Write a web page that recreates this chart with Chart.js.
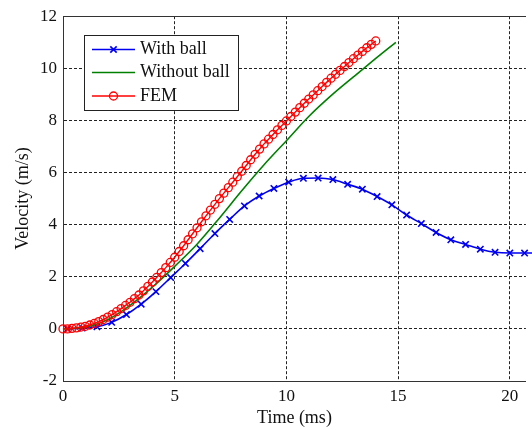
<!DOCTYPE html>
<html>
<head>
<meta charset="utf-8">
<script src="https://cdn.jsdelivr.net/npm/chart.js@4/dist/chart.umd.min.js"></script>
<style>
  html, body { margin: 0; padding: 0; background: #fff; }
  #wrap { width: 532px; height: 430px; position: relative; }
</style>
</head>
<body>
<div id="wrap"><canvas id="velChart"></canvas></div>
<script>
/* ── data ── */
const blueTime = [0.2, 0.86, 1.52, 2.18, 2.84, 3.5, 4.16, 4.82, 5.48, 6.14, 6.8, 7.46, 8.12, 8.78,
  9.44, 10.1, 10.76, 11.42, 12.08, 12.74, 13.4, 14.06, 14.72, 15.38, 16.04, 16.7, 17.36, 18.02,
  18.68, 19.34, 20.0, 20.66, 21.32];
const blueVel = [0.0, 0.03, 0.08, 0.25, 0.55, 0.95, 1.43, 1.97, 2.51, 3.08, 3.66, 4.2, 4.72, 5.1,
  5.39, 5.63, 5.78, 5.79, 5.73, 5.55, 5.36, 5.08, 4.76, 4.37, 4.04, 3.70, 3.42, 3.24,
  3.06, 2.94, 2.91, 2.91, 2.91];

const greenTime = [0, 1, 2, 3, 4, 5, 6, 7, 8, 9, 10, 11, 12, 13, 14, 14.9];
const greenVel = [0, 0.06, 0.35, 0.9, 1.6, 2.4, 3.25, 4.25, 5.3, 6.3, 7.22, 8.15, 8.95, 9.67, 10.38, 11.0];

const femTime = [0.0, 0.2, 0.4, 0.6, 0.8, 1.0, 1.2, 1.4, 1.6, 1.8, 2.0, 2.2, 2.4, 2.6, 2.8, 3.0,
  3.2, 3.4, 3.6, 3.8, 4.0, 4.2, 4.4, 4.6, 4.8, 5.0, 5.2, 5.4, 5.6, 5.8, 6.0, 6.2, 6.4, 6.6, 6.8,
  7.0, 7.2, 7.4, 7.6, 7.8, 8.0, 8.2, 8.4, 8.6, 8.8, 9.0, 9.2, 9.4, 9.6, 9.8, 10.0, 10.2, 10.4,
  10.6, 10.8, 11.0, 11.2, 11.4, 11.6, 11.8, 12.0, 12.2, 12.4, 12.6, 12.8, 13.0, 13.2, 13.4,
  13.6, 13.8, 14.0];
const femVel = [0.00, 0.00, 0.02, 0.04, 0.07, 0.10, 0.15, 0.21, 0.28, 0.36, 0.45, 0.55, 0.66,
  0.78, 0.90, 1.02, 1.16, 1.30, 1.46, 1.63, 1.80, 1.98, 2.16, 2.35, 2.55, 2.75, 2.97, 3.19,
  3.42, 3.65, 3.88, 4.11, 4.34, 4.56, 4.78, 5.00, 5.21, 5.42, 5.63, 5.84, 6.05, 6.27, 6.49,
  6.70, 6.90, 7.10, 7.28, 7.46, 7.64, 7.81, 7.98, 8.15, 8.32, 8.49, 8.66, 8.82, 8.98, 9.14,
  9.30, 9.46, 9.62, 9.77, 9.92, 10.07, 10.22, 10.37, 10.51, 10.65, 10.79, 10.92, 11.05];

const xTicks = [0, 5, 10, 15, 20];
const yTicks = [-2, 0, 2, 4, 6, 8, 10, 12];

const toXY = (xs, ys) => xs.map((x, i) => ({ x: x, y: ys[i] }));

const SERIF = "'Liberation Serif', 'Times New Roman', serif";

/* ── solid top edge of the axes box ── */
const boxTop = {
  id: 'boxTop',
  afterDraw(chart) {
    const { ctx, chartArea } = chart;
    ctx.save();
    ctx.strokeStyle = '#333';
    ctx.lineWidth = 1;
    ctx.beginPath();
    ctx.moveTo(chartArea.left, Math.round(chartArea.top) + 0.5);
    ctx.lineTo(chartArea.right, Math.round(chartArea.top) + 0.5);
    ctx.stroke();
    ctx.restore();
  }
};

/* ── MATLAB style legend inside the axes ── */
function drawMarker(ctx, style, x, y, r) {
  ctx.beginPath();
  if (style === 'circle') {
    ctx.arc(x, y, r, 0, Math.PI * 2);
  } else if (style === 'crossRot') {
    const d = r * Math.SQRT1_2;
    ctx.moveTo(x - d, y - d); ctx.lineTo(x + d, y + d);
    ctx.moveTo(x + d, y - d); ctx.lineTo(x - d, y + d);
  }
  ctx.stroke();
}

const boxLegend = {
  id: 'boxLegend',
  afterDraw(chart) {
    const ctx = chart.ctx;
    const bx = 84.5, by = 35.5, bw = 154, bh = 75;
    ctx.save();
    ctx.fillStyle = '#fff';
    ctx.fillRect(bx, by, bw, bh);
    ctx.strokeStyle = '#222';
    ctx.lineWidth = 1;
    ctx.strokeRect(bx, by, bw, bh);
    const rows = [49.5, 72.5, 96];
    chart.data.datasets.forEach((ds, i) => {
      const y = rows[i];
      ctx.strokeStyle = ds.borderColor;
      ctx.lineWidth = ds.borderWidth;
      ctx.beginPath();
      ctx.moveTo(92, y);
      ctx.lineTo(135, y);
      ctx.stroke();
      if (ds.pointRadius > 0) {
        ctx.lineWidth = ds.pointBorderWidth;
        drawMarker(ctx, ds.pointStyle, 113.5, y, ds.pointRadius);
      }
      ctx.fillStyle = '#111';
      ctx.font = '18px ' + SERIF;
      ctx.textBaseline = 'middle';
      ctx.textAlign = 'left';
      ctx.fillText(ds.label, 140, y);
    });
    ctx.restore();
  }
};

const velCtx = document.getElementById('velChart').getContext('2d');

new Chart(velCtx, {
  type: 'line',
  data: {
    datasets: [
      {
        label: 'With ball',
        data: toXY(blueTime, blueVel),
        borderColor: '#0000f0',
        borderWidth: 1.6,
        pointStyle: 'crossRot',
        pointRadius: 4.5,
        pointBorderWidth: 1.6,
        pointBorderColor: '#0000f0',
        pointBackgroundColor: '#0000f0',
        cubicInterpolationMode: 'monotone',
        fill: false,
        clip: false,
        order: 3
      },
      {
        label: 'Without ball',
        data: toXY(greenTime, greenVel),
        borderColor: '#008000',
        borderWidth: 1.6,
        pointRadius: 0,
        pointBorderWidth: 0,
        cubicInterpolationMode: 'monotone',
        fill: false,
        order: 2
      },
      {
        label: 'FEM',
        data: toXY(femTime, femVel),
        borderColor: '#ff0000',
        borderWidth: 1.4,
        pointStyle: 'circle',
        pointRadius: 4,
        pointBorderWidth: 1.3,
        pointBorderColor: '#ff0000',
        pointBackgroundColor: 'rgba(0,0,0,0)',
        tension: 0,
        fill: false,
        clip: false,
        order: 1
      }
    ]
  },
  options: {
    responsive: true,
    maintainAspectRatio: false,
    animation: false,
    layout: { padding: { top: 14, right: 0, left: 0, bottom: 0 } },
    plugins: {
      legend: { display: false },
      tooltip: { enabled: false }
    },
    scales: {
      x: {
        type: 'linear',
        min: 0,
        max: 20.72,
        afterFit: s => { s.height = 49; },
        afterBuildTicks: s => { s.ticks = xTicks.map(v => ({ value: v })); },
        ticks: {
          includeBounds: false,
          padding: 5,
          color: '#111',
          font: { family: SERIF, size: 17 },
          maxRotation: 0
        },
        grid: { color: '#222', lineWidth: 1, drawTicks: false },
        border: { display: true, color: '#333', width: 1, dash: [3, 2] },
        title: {
          display: true,
          text: 'Time (ms)',
          color: '#111',
          font: { family: SERIF, size: 18 },
          padding: { top: 0, bottom: 1 }
        }
      },
      y: {
        min: -2,
        max: 12,
        afterFit: s => { s.width = 63; },
        afterBuildTicks: s => { s.ticks = yTicks.map(v => ({ value: v })); },
        ticks: {
          padding: 6,
          color: '#111',
          font: { family: SERIF, size: 17 }
        },
        grid: { color: '#222', lineWidth: 1, drawTicks: false },
        border: { display: true, color: '#333', width: 1, dash: [3, 2] },
        title: {
          display: true,
          text: 'Velocity (m/s)',
          color: '#111',
          font: { family: SERIF, size: 18 },
          padding: { top: 12, bottom: 0 }
        }
      }
    }
  },
  plugins: [boxTop, boxLegend]
});
</script>
</body>
</html>
